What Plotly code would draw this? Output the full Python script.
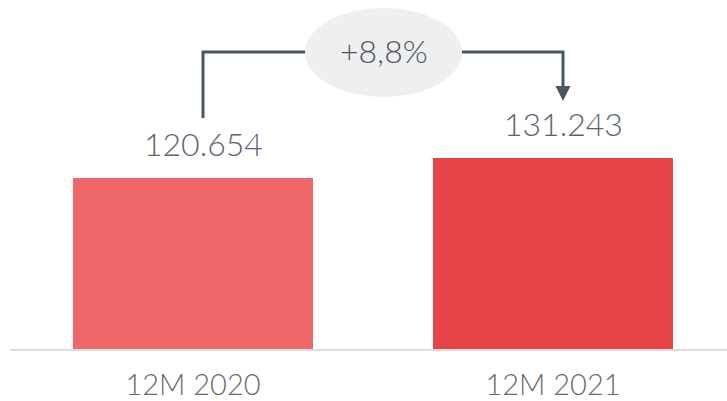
import plotly.graph_objects as go

# Data
periods = ['12M 2020', '12M 2021']
values = [120654, 131243]
bar_colors = ['#EE6869', '#E64446']

W, H = 727, 401
ML, MB = 13, 51
PW, PH = W - ML, H - MB


# helpers to place the decorations in paper coordinates from pixel guesses
def px(x):
    return (x - ML) / PW


def py(y):
    return (PH - y) / PH


change = (values[1] / values[0] - 1) * 100
change_txt = ('+' if change >= 0 else '') + f'{change:.1f}'.replace('.', ',') + '%'

label_font = dict(family='Lato', size=32, color='#5b6472', weight=300)

fig = go.Figure()

fig.add_trace(go.Bar(
    x=periods,
    y=values,
    marker=dict(color=bar_colors, line_width=0),
    hoverinfo='x+y',
))

# value labels above the bars
for p, v in zip(periods, values):
    fig.add_annotation(
        x=p, y=v, xref='x', yref='y',
        text=f'{v:,}'.replace(',', '.'),
        showarrow=False, yanchor='bottom', yshift=13, xshift=10,
        font=label_font,
    )

line_col = '#4a5566'
# bracket connecting the two bars
fig.add_shape(type='path', xref='paper', yref='paper',
              path=f'M {px(203)},{py(118)} L {px(203)},{py(52)} L {px(320)},{py(52)}',
              line=dict(color=line_col, width=3))
fig.add_shape(type='path', xref='paper', yref='paper',
              path=f'M {px(450)},{py(52)} L {px(563)},{py(52)} L {px(563)},{py(88)}',
              line=dict(color=line_col, width=3))
fig.add_shape(type='path', xref='paper', yref='paper',
              path=f'M {px(555.5)},{py(86)} L {px(570.5)},{py(86)} L {px(563)},{py(101)} Z',
              fillcolor=line_col, line=dict(color=line_col, width=0))

# bubble with the change
fig.add_shape(type='circle', xref='paper', yref='paper',
              x0=px(305), x1=px(462), y0=py(97), y1=py(8),
              fillcolor='#efefef', line_width=0)
fig.add_annotation(
    x=px(383.5), y=py(51), xref='paper', yref='paper',
    text=change_txt, showarrow=False, yanchor='middle', xanchor='center',
    font=dict(family='Lato', size=32, color='#4a5566', weight=300),
)

# baseline
fig.add_shape(type='line', xref='paper', yref='paper',
              x0=px(10), x1=px(727), y0=0, y1=0,
              line=dict(color='#dddddd', width=2))

fig.update_layout(
    width=W, height=H,
    margin=dict(l=ML, r=0, t=0, b=MB),
    paper_bgcolor='white',
    plot_bgcolor='white',
    bargap=1 / 3,
    showlegend=False,
    xaxis=dict(
        range=[-0.5, -0.5 + PW / 360],
        showgrid=False, showline=False, zeroline=False,
        automargin=False,
        ticks='', ticklabelstandoff=15,
        tickfont=dict(family='Lato', size=29, color='#6a6a6a', weight=300),
    ),
    yaxis=dict(
        range=[29591, 214894],
        visible=False,
    ),
)

fig.write_html('out.html', post_script="document.body.style.margin='0';",
               config=dict(displayModeBar=False))
